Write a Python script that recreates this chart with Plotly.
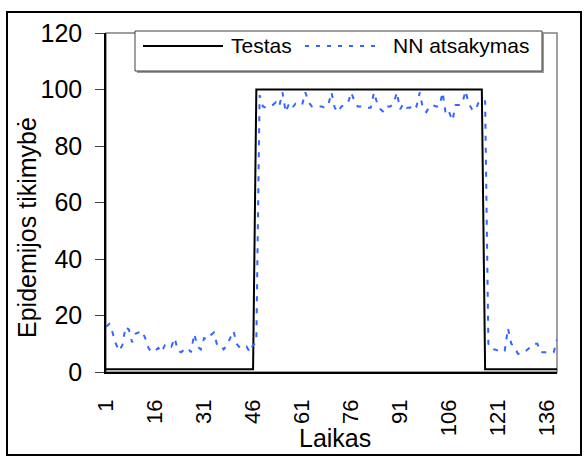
import plotly.graph_objects as go

# ---------------- data ----------------
categories = list(range(1, 140))

testas = [
    1, 1, 1, 1, 1, 1, 1, 1, 1, 1,
    1, 1, 1, 1, 1, 1, 1, 1, 1, 1,
    1, 1, 1, 1, 1, 1, 1, 1, 1, 1,
    1, 1, 1, 1, 1, 1, 1, 1, 1, 1,
    1, 1, 1, 1, 1, 1,
    100, 100, 100, 100, 100, 100, 100, 100, 100, 100,
    100, 100, 100, 100, 100, 100, 100, 100, 100, 100,
    100, 100, 100, 100, 100, 100, 100, 100, 100, 100,
    100, 100, 100, 100, 100, 100, 100, 100, 100, 100,
    100, 100, 100, 100, 100, 100, 100, 100, 100, 100,
    100, 100, 100, 100, 100, 100, 100, 100, 100, 100,
    100, 100, 100, 100, 100, 100, 100, 100, 100, 100,
    1, 1, 1, 1, 1, 1, 1, 1, 1, 1,
    1, 1, 1, 1, 1, 1, 1, 1, 1, 1,
    1, 1, 1,
]

nn_atsakymas = [
    16, 17, 14, 10, 7.5, 9.5, 16, 15, 10.5, 13.5,
    14, 14.5, 12, 8.5, 7, 7.5, 8.5, 7, 9.5, 10,
    9, 12, 7.5, 7, 8, 8.5, 7, 13.5, 9, 8,
    12, 11.5, 13, 14, 9.5, 9.5, 8, 9.5, 12, 14.5,
    10, 8.5, 8.5, 9, 7, 9.5, 10.5,
    98, 94, 93.5, 94, 94.5, 95.5, 94, 99, 92, 95,
    93.5, 95, 95, 94.5, 99, 95.5, 94, 94, 94, 94,
    93.5, 94.5, 99, 93.5, 92, 94, 94.5, 95, 99, 96,
    94, 94, 94, 93.5, 93.5, 99, 95, 93, 92, 94,
    94, 95, 99, 93, 95, 93.5, 93.5, 95, 94, 99,
    93, 92, 94, 94.5, 94, 94, 99, 91, 92, 89,
    94.5, 94.5, 95, 99.5, 95, 93, 92.5, 95.5, 95, 96,
    10, 8, 8, 7.5, 7, 7.5, 15.5, 10, 9, 6.5,
    6.5, 7, 8, 9, 10, 10, 7, 7, 7, 7, 7, 11.5,
]

x_tick_values = [1, 16, 31, 46, 61, 76, 91, 106, 121, 136]
x_tick_labels = [str(v) for v in x_tick_values]
y_tick_values = [0, 20, 40, 60, 80, 100, 120]

series_names = ["Testas", "NN atsakymas"]
x_title = "Laikas"
y_title = "Epidemijos tikimybė"

# ---------------- layout helpers ----------------
W, H = 588, 463
L, R, T, B = 106, 557, 33, 372   # plot area in pixels

def px(xp):
    return (xp - L) / (R - L)

def py(yp):
    return (B - yp) / (B - T)

FONT = 'Arial, "Liberation Sans", sans-serif'
BLUE = "#3366FF"

fig = go.Figure()
fig.add_trace(go.Scatter(x=categories, y=testas, mode="lines",
                         line=dict(color="black", width=2),
                         name=series_names[0], showlegend=False))
fig.add_trace(go.Scatter(x=categories, y=nn_atsakymas, mode="lines",
                         line=dict(color=BLUE, width=2, dash="5px,7px"),
                         name=series_names[1], showlegend=False))

fig.update_layout(
    width=W, height=H,
    margin=dict(l=L, r=W - R, t=T, b=H - B, pad=0, autoexpand=False),
    paper_bgcolor="white", plot_bgcolor="white",
    showlegend=False,
    font=dict(family=FONT, size=22, color="black"),
)
fig.update_xaxes(range=[1, 139], tickmode="array", tickvals=x_tick_values,
                 ticktext=x_tick_labels, tickangle=-90, ticks="",
                 showgrid=False, zeroline=False, showline=True,
                 linecolor="black", linewidth=1.5, ticklabelstandoff=17,
                 tickfont=dict(size=22))
fig.update_yaxes(range=[0, 120], tickmode="array", tickvals=y_tick_values,
                 ticks="outside", ticklen=9, tickwidth=1, tickcolor="#404040",
                 showgrid=False, zeroline=False, showline=True,
                 linecolor="black", linewidth=1.5, ticklabelstandoff=8,
                 tickfont=dict(size=25))

shapes = [
    dict(type="rect", xref="paper", yref="paper", x0=0, x1=1, y0=0, y1=1,
         line=dict(color="#808080", width=1.5), layer="below"),
    dict(type="rect", xref="paper", yref="paper", x0=px(7), x1=px(581),
         y0=py(455), y1=py(12), line=dict(color="black", width=2)),
    # legend shadow
    dict(type="rect", xref="paper", yref="paper", x0=px(137), x1=px(544),
         y0=py(73), y1=py(33), line=dict(width=0),
         fillcolor="#9a9a9a", layer="above"),
    dict(type="rect", xref="paper", yref="paper", x0=px(135), x1=px(542),
         y0=py(71), y1=py(31), line=dict(color="#404040", width=1),
         fillcolor="white", layer="above"),
    dict(type="line", xref="paper", yref="paper", x0=px(143), x1=px(223),
         y0=py(46), y1=py(46), line=dict(color="black", width=2)),
    dict(type="line", xref="paper", yref="paper", x0=px(305), x1=px(382),
         y0=py(46), y1=py(46), line=dict(color=BLUE, width=2, dash="4px,7px")),
]
annotations = [
    dict(text=series_names[0], xref="paper", yref="paper", x=px(229), y=py(46),
         xanchor="left", yanchor="middle", showarrow=False,
         font=dict(size=21, family=FONT)),
    dict(text=series_names[1], xref="paper", yref="paper", x=px(391), y=py(46),
         xanchor="left", yanchor="middle", showarrow=False,
         font=dict(size=21, family=FONT)),
    dict(text=x_title, xref="paper", yref="paper", x=px(335), y=py(438),
         xanchor="center", yanchor="middle", showarrow=False,
         font=dict(size=25, family=FONT)),
    dict(text=y_title, xref="paper", yref="paper", x=px(27), y=py(228),
         xanchor="center", yanchor="middle", textangle=-90, showarrow=False,
         font=dict(size=25, family=FONT)),
]
fig.update_layout(shapes=shapes, annotations=annotations)

fig.write_html("out.html", config={"displayModeBar": False},
               post_script="document.body.style.margin='0px';document.body.style.overflow='hidden';")
